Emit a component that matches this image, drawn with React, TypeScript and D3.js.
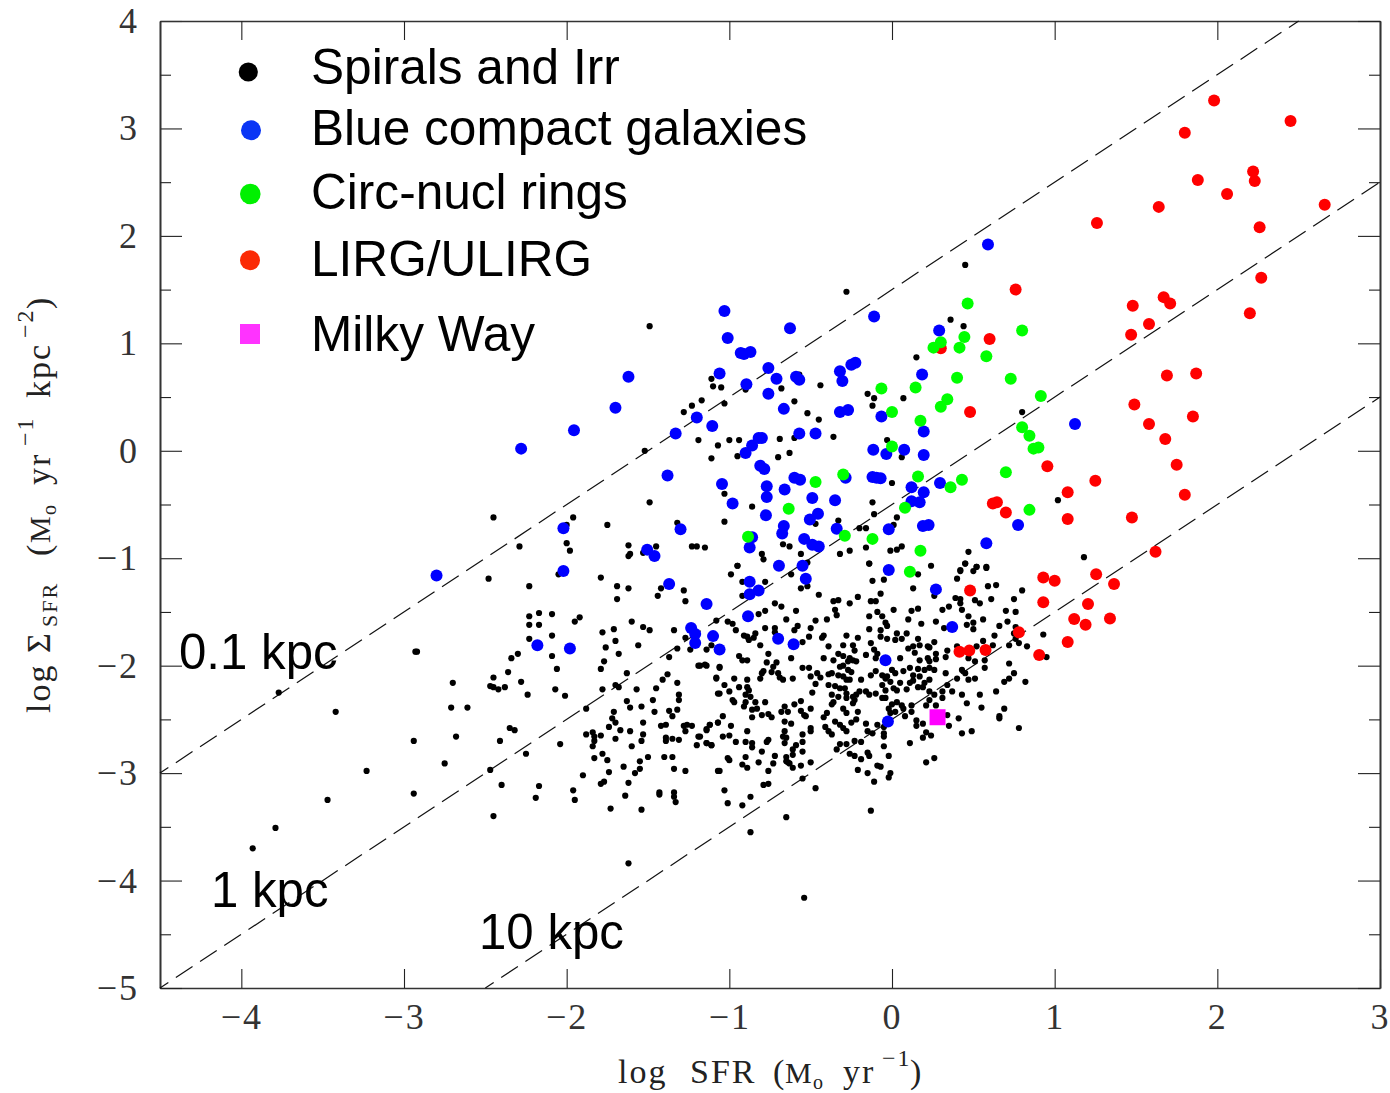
import React, { useEffect, useRef } from 'react';
import * as d3 from 'd3';

type Pt = [number, number];

// [log SFR, log sigma SFR]
const spirals: Pt[] = [
  [-3.77,-2.25],[-3.42,-2.43],[-3.23,-2.98],[-3.47,-3.25],[-3.79,-3.51],[-3.93,-3.70],[-2.93,-1.87],[-2.94,-2.70],[-2.94,-3.19],[-2.75,-2.91],
  [-2.70,-2.16],[-2.71,-2.39],[-2.61,-2.39],[-2.68,-2.66],[-2.45,-3.40],[-1.95,-3.25],[-1.54,-3.34],[-1.73,-3.33],[-1.33,-3.27],[-1.43,-3.20],
  [-1.62,-3.84],[-0.54,-4.16],[-0.28,1.48],[0.45,1.73],[-1.49,1.16],[-1.52,0.0],[-0.87,-3.55],
  [-2.45,-0.62],[-2.00,-0.69],[-1.96,-0.62],[-1.75,-0.69],[-1.49,-0.48],[-1.32,-0.67],[-2.29,-0.89],[-2.00,-0.86],[-1.98,-0.93],[-1.62,-0.88],
  [-1.61,-0.96],[-1.62,-0.98],[-1.53,-0.95],[-1.45,-0.89],[-1.23,-0.89],[-1.20,-0.89],[-1.15,-0.90],[-2.48,-1.19],[-2.23,-1.26],[-2.05,-1.15],
  [-1.79,-1.18],[-1.69,-1.26],[-1.62,-1.28],[-1.69,-1.38],[-1.42,-1.28],[-1.44,-1.35],[-1.28,-1.30],[-1.27,-1.40],[-2.92,-1.87],[-2.23,-1.54],
  [-2.17,-1.51],[-2.09,-1.52],[-2.23,-1.62],[-2.17,-1.62],[-2.23,-1.75],[-2.09,-1.72],[-1.95,-1.59],[-1.92,-1.55],[-2.09,-1.91],[-2.06,-2.03],
  [-2.30,-1.89],[-2.34,-1.93],[-2.36,-2.06],[-2.45,-2.11],[-2.47,-2.19],[-2.45,-2.20],[-2.42,-2.22],[-2.38,-2.20],[-2.28,-2.15],[-2.24,-2.27],
  [-2.07,-2.22],[-2.01,-2.28],[-2.35,-2.58],[-2.32,-2.60],[-2.41,-2.70],[-2.04,-2.73],[-2.25,-2.82],[-2.47,-2.97],[-2.40,-3.11],[-2.17,-3.12],
  [-2.19,-3.23],[-1.96,-3.16],[-1.78,-1.69],[-1.71,-1.66],[-1.60,-1.59],[-1.53,-1.64],[-1.49,-1.67],[-1.70,-1.77],[-1.76,-1.83],[-1.68,-1.89],
  [-1.56,-1.81],[-1.34,-1.67],[-1.27,-1.74],[-1.32,-1.84],[-1.37,-1.92],[-1.24,-1.85],[-1.14,-1.85],[-1.11,-1.81],[-1.08,-1.58],[-1.77,-1.96],
  [-1.79,-2.03],[-1.63,-2.07],[-1.38,-2.08],[-1.41,-2.13],[-1.32,-2.16],[-1.19,-2.00],[-1.14,-2.00],[-1.06,-2.02],[-1.08,-2.11],[-1.70,-2.18],
  [-1.68,-2.20],[-1.78,-2.22],[-1.57,-2.22],[-1.45,-2.21],[-1.63,-2.33],[-1.47,-2.32],[-1.61,-2.39],[-1.54,-2.38],[-1.31,-2.27],[-1.31,-2.32],
  [-1.07,-2.26],[-1.88,-2.40],[-1.71,-2.43],[-1.72,-2.49],[-1.70,-2.53],[-1.74,-2.57],[-1.67,-2.60],[-1.46,-2.43],[-1.37,-2.42],[-1.32,-2.41],
  [-1.35,-2.47],[-1.53,-2.53],[-1.61,-2.61],[-1.53,-2.64],[-1.54,-2.70],[-1.70,-2.68],[-1.79,-2.65],[-1.88,-2.64],[-1.84,-2.62],[-1.83,-2.66],
  [-1.83,-2.70],[-1.84,-2.75],[-1.60,-2.75],[-1.50,-2.85],[-1.55,-2.89],[-1.55,-2.96],[-1.58,-3.00],[-1.83,-2.86],[-1.78,-2.82],[-1.75,-2.88],
  [-1.65,-2.94],[-1.74,-2.99],[-1.90,-3.02],[-1.79,-3.10],[-1.77,-3.08],[-1.62,-3.09],[-1.42,-2.56],[-1.39,-2.55],[-1.28,-2.56],[-1.26,-2.55],
  [-1.23,-2.56],[-1.27,-2.61],[-1.39,-2.67],[-1.39,-2.70],[-1.35,-2.68],[-1.31,-2.69],[-1.19,-2.66],[-1.20,-2.74],[-1.14,-2.72],[-1.11,-2.74],
  [-1.14,-2.60],[-1.12,-2.55],[-1.07,-2.53],[-1.40,-2.85],[-1.35,-2.85],[-1.34,-2.96],[-1.27,-2.98],[-1.07,-2.98],[-1.64,-3.21],[-1.43,-3.18],
  [-1.34,-3.18],[-1.34,-3.22],
  [-0.95,-1.07],[-0.99,-1.15],[-0.92,-1.22],[-0.78,-1.22],[-0.92,-1.35],[-0.62,-1.15],[-0.56,-1.28],[-0.52,-1.26],[-0.45,-1.34],[-0.36,-1.40],
  [-0.33,-1.39],[-0.26,-1.42],[-0.21,-1.36],[-0.35,-1.48],[-0.34,-1.53],[-0.14,-1.05],[-0.12,-1.21],[-0.05,-1.20],[-0.07,-1.33],[-0.13,-1.40],
  [-0.10,-1.40],[-0.14,-1.54],[-0.09,-1.50],[-0.06,-1.54],[-0.04,-1.60],[-0.03,-1.63],[0.01,-1.48],[0.12,-1.49],[0.16,-1.47],[0.10,-1.57],
  [0.18,-1.61],[0.27,-1.59],[0.16,-1.15],[0.13,-1.28],[0.24,-1.07],[0.26,-1.35],[0.31,-1.48],[0.35,-1.45],[0.32,-1.65],[0.39,-1.37],
  [0.42,-1.38],[0.42,-1.42],[0.43,-1.48],[0.40,-1.19],[0.42,-1.12],[0.45,-1.05],[0.50,-1.12],[0.52,-1.08],[0.58,-1.09],[0.59,-1.26],
  [0.64,-1.25],[0.51,-1.39],[0.54,-1.42],[0.61,-1.38],[0.80,-1.30],[0.75,-1.38],[0.70,-1.49],[0.76,-1.50],[0.47,-1.54],[0.46,-1.62],
  [0.50,-1.60],[0.50,-1.66],[0.56,-1.57],[0.66,-1.63],[0.71,-1.59],[0.76,-1.64],[0.75,-1.70],[0.76,-1.75],[0.78,-1.79],[0.83,-1.82],
  [0.93,-1.71],[0.95,-1.92],[0.63,-1.72],[0.62,-1.81],[0.56,-1.77],[0.72,-1.81],[0.40,-1.82],[0.47,-1.93],[0.52,-1.82],[0.51,-1.96],
  [0.57,-1.95],[0.57,-2.02],[0.72,-1.98],[0.75,-2.07],[0.69,-2.15],[0.72,-2.12],[0.82,-2.15],[0.43,-2.04],[0.45,-2.07],[0.40,-2.12],
  [0.47,-2.13],[0.51,-2.12],[0.33,-2.07],[0.64,-2.24],[0.54,-2.27],[0.43,-2.27],[0.46,-2.35],[0.55,-2.39],[0.69,-2.40],[0.66,-2.47],
  [0.66,-2.49],[0.78,-2.58],[0.41,-2.49],[0.35,-2.56],[0.43,-2.63],[0.49,-2.61],[0.34,-2.46],
  [-1.01,-1.59],[-0.98,-1.61],[-0.96,-1.67],[-0.82,-1.52],[-0.78,-1.49],[-0.72,-1.42],[-0.68,-1.45],[-0.59,-1.49],[-0.65,-1.57],[-0.47,-1.58],
  [-0.40,-1.57],[-0.58,-1.63],[-0.60,-1.67],[-0.50,-1.65],[-0.78,-1.65],[-0.72,-1.65],[-0.72,-1.69],[-0.91,-1.72],[-0.84,-1.70],[-0.85,-1.74],
  [-0.88,-1.76],[-0.89,-1.73],[-0.81,-1.81],[-0.55,-1.78],[-0.51,-1.73],[-0.43,-1.74],[-0.42,-1.72],[-0.39,-1.82],[-0.28,-1.72],[-0.21,-1.74],
  [-0.30,-1.81],[-0.24,-1.81],[-0.23,-1.86],[-0.13,-1.79],[-0.14,-1.66],[-0.07,-1.67],[-0.07,-1.73],[-0.03,-1.75],[0.03,-1.70],[0.02,-1.76],
  [0.06,-1.75],[0.09,-1.70],[0.16,-1.75],[0.17,-1.81],[0.13,-1.82],[0.10,-1.84],[0.14,-1.88],[0.22,-1.82],[0.26,-1.78],[0.23,-1.83],
  [0.27,-1.89],[0.34,-1.86],[0.33,-1.92],[0.27,-1.94],[0.22,-1.93],[0.23,-1.96],[0.17,-1.95],[0.05,-1.93],[-0.11,-1.85],[-0.09,-1.89],
  [-0.10,-1.93],[-0.16,-1.90],[-0.33,-1.89],[-0.30,-1.91],[-0.36,-1.95],[-0.42,-1.93],[-0.26,-1.93],[-0.24,-1.95],[-0.22,-1.96],[-0.27,-1.96],
  [-0.94,-1.91],[-0.92,-1.95],[-0.89,-1.95],[-0.76,-1.89],[-0.77,-1.97],[-0.71,-1.97],[-0.62,-1.93],[-1.15,-1.99],[-1.06,-2.01],[-1.18,-2.00],
  [-0.73,-2.01],[-0.79,-2.05],[-0.80,-2.07],[-0.74,-2.06],[-0.70,-2.07],[-0.69,-2.11],[-0.67,-2.13],[-0.81,-2.12],[-0.61,-2.12],[-0.55,-2.02],
  [-0.51,-2.02],[-0.50,-2.10],[-0.46,-2.07],[-0.44,-2.11],[-1.08,-2.12],[-0.97,-2.12],[-0.89,-2.13],[-0.39,-2.08],[-0.37,-2.07],[-0.32,-2.01],
  [-0.30,-2.00],[-0.33,-2.09],[-0.30,-2.10],[-0.27,-2.04],[-0.25,-2.06],[-0.28,-2.13],[-0.26,-2.13],[-0.19,-2.13],[-0.13,-2.09],[-0.10,-2.05],
  [-0.06,-2.09],[-0.03,-2.10],[0,-2.04],[0.02,-2.07],[0.07,-2.05],[0.11,-2.02],[0.13,-2.09],[0.16,-2.03],[0.20,-2.04],[0.23,-2.02],
  [0.26,-2.04],[0.17,-2.10],[0.23,-2.13],[0.20,-2.16],[0.16,-2.20],[0.19,-2.20],[0.13,-2.14],[0.11,-2.16],[0.05,-2.16],[0.09,-2.22],
  [0.01,-2.21],[0.03,-2.23],[-0.06,-2.18],[-0.04,-2.23],[-0.01,-2.15],[-0.04,-2.12],[-0.39,-2.18],[-0.35,-2.19],[-0.32,-2.21],[-0.29,-2.21],
  [-0.47,-2.17],[-0.49,-2.25],[-0.37,-2.27],[-0.33,-2.29],[-0.28,-2.26],[-0.28,-2.30],[-0.24,-2.29],[-0.22,-2.27],[-0.20,-2.24],[-0.16,-2.24],
  [-0.14,-2.27],[-0.10,-2.26],[-0.06,-2.30],[-0.04,-2.30],[-0.36,-2.34],[-0.37,-2.36],[-0.24,-2.35],[-0.30,-2.40],[-0.28,-2.44],[-0.23,-2.32],
  [-0.21,-2.43],[-0.22,-2.50],[-0.25,-2.53],[-0.16,-2.54],[-0.09,-2.55],[-0.15,-2.61],[-0.12,-2.63],[-0.05,-2.57],[-0.05,-2.63],[-0.05,-2.66],
  [-0.02,-2.40],[-0.01,-2.44],[0.02,-2.43],[0.03,-2.34],[0,-2.36],[0.06,-2.37],[0.07,-2.40],[0.12,-2.37],[0.12,-2.43],[0.08,-2.47],
  [0.15,-2.51],[0.19,-2.54],[0.15,-2.56],[0.21,-2.62],[0.24,-2.65],[0.19,-2.67],[0.11,-2.72],[0.21,-2.90],[0.26,-2.86],[0.23,-2.24],
  [0.26,-2.27],[0.31,-2.24],[0.34,-2.18],[0.37,-2.24],[0.31,-2.30],[0.23,-2.32],[0.21,-2.37],[0.27,-2.37],
  [-1.03,-2.18],[-1.00,-2.24],[-0.94,-2.20],[-1.06,-2.26],[-0.98,-2.32],[-0.97,-2.34],[-0.89,-2.20],[-0.88,-2.23],[-0.90,-2.27],[-0.87,-2.29],
  [-0.90,-2.34],[-0.91,-2.38],[-0.84,-2.34],[-0.78,-2.34],[-0.86,-2.41],[-0.83,-2.40],[-0.86,-2.48],[-0.80,-2.46],[-0.76,-2.45],[-0.74,-2.48],
  [-0.66,-2.38],[-0.68,-2.43],[-0.64,-2.43],[-0.60,-2.36],[-0.56,-2.33],[-0.50,-2.40],[-0.56,-2.42],[-0.54,-2.46],[-0.53,-2.47],[-0.40,-2.44],
  [-0.42,-2.48],[-0.35,-2.52],[-0.41,-2.57],[-0.39,-2.61],[-0.37,-2.64],[-0.32,-2.55],[-0.30,-2.58],[-0.28,-2.61],[-0.66,-2.52],[-0.62,-2.54],
  [-0.50,-2.58],[-0.50,-2.61],[-0.55,-2.64],[-0.66,-2.61],[-0.67,-2.66],[-0.65,-2.67],[-0.66,-2.72],[-0.55,-2.71],[-0.59,-2.74],[-0.61,-2.78],
  [-0.55,-2.80],[-1.12,-2.55],[-0.99,-2.56],[-1.07,-2.53],[-1.04,-2.47],[-1.14,-2.59],[-1.18,-2.66],[-1.04,-2.66],[-1.00,-2.65],[-0.89,-2.61],
  [-0.96,-2.71],[-0.90,-2.71],[-0.86,-2.72],[-0.86,-2.76],[-0.76,-2.69],[-0.77,-2.71],[-1.14,-2.72],[-1.11,-2.74],[-0.80,-2.80],[-0.72,-2.84],
  [-0.90,-2.85],[-1.01,-2.86],[-1.00,-2.88],[-0.82,-2.90],[-0.73,-2.91],[-0.92,-2.92],[-0.89,-2.95],[-1.06,-2.98],[-0.76,-2.98],[-0.65,-2.85],
  [-0.61,-2.83],[-0.65,-2.89],[-0.63,-2.91],[-0.64,-2.90],[-0.61,-2.95],[-0.56,-2.93],[-0.50,-2.90],[-0.55,-3.05],[-0.47,-3.14],[-0.79,-3.11],
  [-0.76,-3.10],[-1.03,-3.16],[-1.01,-3.28],[-0.92,-3.30],[-0.87,-3.22],[-0.65,-3.41],[-0.13,-3.35],[-0.34,-2.78],[-0.32,-2.73],[-0.28,-2.73],
  [-0.23,-2.70],[-0.19,-2.71],[-0.26,-2.82],[-0.23,-2.84],[-0.19,-2.87],[-0.15,-2.81],[-0.14,-2.84],[-0.21,-2.97],[-0.15,-3.00],[-0.09,-2.93],
  [-0.07,-2.94],[-0.11,-3.08],[-0.01,-3.00],[-0.02,-3.04],[-0.02,-2.84],[-0.05,-2.75],
  [0.36,1.22],[0.44,1.16],[0.15,0.87],[-1.11,0.67],[-1.10,0.60],[-1.05,0.59],[-0.90,0.57],[-0.68,0.58],[-0.57,0.71],[-0.44,0.61],
  [-1.17,0.47],[-1.23,0.42],[-1.28,0.36],[-1.03,0.44],[-0.60,0.46],[-0.52,0.35],[-0.45,0.29],[-0.15,0.53],[-0.11,0.49],[-0.12,0.42],
  [0.07,0.49],[-1.19,0.10],[-1.07,0.05],[-1.00,0.10],[-0.94,0.10],[-0.69,0.11],[-0.60,0.12],[-0.36,0.13],[-0.03,0.10],[0.06,-0.06],
  [-1.11,-0.07],[-0.95,-0.05],[-0.70,-0.06],[-0.63,-0.02],[0,-0.30],[0.80,0.36],[1.02,-0.46],[-1.03,-0.40],[-0.86,-0.52],[-0.12,-0.48],
  [-0.11,-0.59],[0.03,-0.62],[0.01,-0.69],[-1.03,-0.66],[-0.47,-0.68],[-0.33,-0.65],[-0.20,-0.72],[-0.16,-0.72],[-0.67,-0.87],[-0.63,-0.89],
  [-0.80,-0.96],[-0.79,-1.01],[-0.56,-0.96],[-0.52,-1.04],[-0.32,-0.96],[-0.26,-0.93],[-0.16,-0.90],[-0.01,-0.93],[0.03,-0.92],[0.06,-0.89],
  [0.47,-0.94],[0.45,-1.05],[0.52,-1.08],[0.58,-1.08],[0.42,-1.11],[-0.95,-1.07],[-0.14,-1.05],[1.18,-0.99],
];

const blueCompact: Pt[] = [
  [-2.80,-1.16],[-2.28,0.02],[-1.955,0.19],[-2.02,-0.72],[-2.02,-1.12],[-2.18,-1.81],[-1.98,-1.84],[-1.70,0.40],[-1.62,0.69],[-1.03,1.30],
  [-1.01,1.05],[-0.627,1.14],[-0.11,1.25],[0.29,1.12],[0.59,1.92],[-0.93,0.91],[-0.91,0.90],[-0.87,0.92],[-0.76,0.77],[-1.06,0.72],
  [-0.895,0.62],[-0.71,0.67],[-0.76,0.53],[-0.59,0.69],[-0.57,0.66],[-0.32,0.74],[-0.305,0.65],[-0.25,0.80],[-0.225,0.82],[0.185,0.71],
  [-0.665,0.39],[-1.20,0.31],[-1.105,0.23],[-1.33,0.16],[-0.57,0.16],[-0.47,0.16],[-0.32,0.36],[-0.27,0.38],[-0.065,0.32],[0.195,0.18],
  [-0.82,0.12],[-0.80,0.12],[-0.86,0.05],[-0.90,-0.02],[-0.115,0.01],[-0.035,-0.03],[0.075,0.01],[0.195,-0.04],[-0.81,-0.14],[-0.785,-0.17],
  [-1.38,-0.23],[-1.045,-0.31],[-0.77,-0.33],[-0.77,-0.43],[-0.66,-0.36],[-0.60,-0.25],[-0.565,-0.27],[-0.285,-0.25],[-0.12,-0.245],[-0.07,-0.255],
  [-0.095,-0.25],[0.12,-0.34],[0.195,-0.385],[0.295,-0.30],[-0.98,-0.49],[-0.49,-0.44],[-0.35,-0.46],[0.12,-0.47],[0.17,-0.48],[-0.775,-0.60],
  [-0.455,-0.585],[-0.505,-0.64],[-0.665,-0.70],[-0.675,-0.77],[-1.30,-0.73],[-0.34,-0.725],[-0.02,-0.73],[0.19,-0.70],[0.225,-0.69],[0.775,-0.69],
  [-0.54,-0.82],[-0.49,-0.875],[-0.45,-0.89],[-0.86,-0.805],[-0.875,-0.90],[-1.505,-0.92],[-1.46,-0.98],[0.58,-0.86],[-0.695,-1.07],[-0.55,-1.07],
  [-0.02,-1.11],[-0.53,-1.19],[0.27,-1.29],[-0.875,-1.22],[-0.82,-1.30],[-0.875,-1.335],[-1.14,-1.425],[-0.885,-1.54],[-1.10,-1.725],[-1.06,-1.85],
  [-1.235,-1.65],[-1.21,-1.705],[-1.21,-1.79],[-0.70,-1.75],[-0.605,-1.80],[0.37,-1.64],[-0.04,-1.95],[-0.025,-2.52],[-1.37,-1.24],[1.125,0.25],
];

const circNuclear: Pt[] = [
  [0.465,1.37],[0.80,1.12],[0.30,1.01],[0.255,0.96],[0.445,1.06],[0.415,0.96],[0.58,0.88],[0.40,0.68],[0.73,0.67],[0.145,0.59],
  [-0.065,0.58],[0.915,0.51],[0.34,0.48],[0.30,0.41],[0,0.36],[0.175,0.28],[0.80,0.22],[0.845,0.14],[0.87,0.02],[0.90,0.03],
  [0,0.04],[-0.30,-0.22],[-0.47,-0.29],[0.16,-0.24],[0.70,-0.20],[0.43,-0.27],[0.36,-0.34],[0.08,-0.53],[-0.635,-0.54],[0.845,-0.55],
  [-0.885,-0.80],[-0.29,-0.79],[-0.12,-0.82],[0.175,-0.93],[0.11,-1.125],
];

const lirgs: Pt[] = [
  [1.98,3.26],[1.80,2.96],[2.45,3.07],[2.22,2.60],[2.23,2.51],[1.88,2.52],[2.06,2.39],[1.64,2.27],[2.66,2.29],[2.26,2.08],
  [1.26,2.12],[2.27,1.61],[0.76,1.50],[1.67,1.43],[1.71,1.37],[1.48,1.35],[2.20,1.28],[1.58,1.18],[1.47,1.08],[0.60,1.04],
  [0.30,0.955],[1.69,0.70],[1.87,0.72],[0.48,0.36],[1.49,0.43],[1.85,0.32],[1.58,0.25],[1.68,0.11],[0.955,-0.145],[1.75,-0.13],
  [1.25,-0.28],[1.08,-0.385],[1.80,-0.41],[0.62,-0.49],[0.645,-0.48],[0.70,-0.575],[1.08,-0.635],[1.475,-0.62],[1.62,-0.94],[1.255,-1.15],
  [0.93,-1.18],[1.00,-1.21],[1.365,-1.24],[0.48,-1.30],[0.93,-1.41],[1.205,-1.425],[1.12,-1.565],[1.34,-1.56],[1.19,-1.62],[0.78,-1.69],
  [1.08,-1.78],[0.905,-1.90],[0.415,-1.87],[0.475,-1.86],[0.575,-1.855],
];

const milkyWay: Pt = [0.28, -2.48];

const diskOffsets = [1.5, -0.5, -2.5];
const xMajor = [-4, -3, -2, -1, 0, 1, 2, 3];
const yMajor = [-5, -4, -3, -2, -1, 0, 1, 2, 3, 4];
const yMinor = [-4.5, -3.5, -2.5, -1.5, -0.5, 0.5, 1.5, 2.5, 3.5];

const legendLabels = ['Spirals and Irr', 'Blue compact galaxies', 'Circ-nucl rings', 'LIRG/ULIRG', 'Milky Way'];

const W = 1390;
const H = 1093;
const SANS = '"Liberation Sans", Arial, sans-serif';
const SERIF = '"Liberation Serif", "Times New Roman", serif';

export default function App() {
  const ref = useRef<SVGSVGElement>(null);

  useEffect(() => {
    const svg = d3.select(ref.current);
    svg.selectAll('*').remove();

    const x = d3.scaleLinear().domain([-4.5, 3]).range([160, 1380]);
    const y = d3.scaleLinear().domain([-5, 4]).range([988, 21]);

    const styleAxis = (g: any) => {
      g.selectAll('line').attr('stroke', '#222').attr('stroke-width', 1.1);
      g.selectAll('path').attr('stroke', '#333').attr('stroke-width', 1.6);
      g.selectAll('text').attr('fill', '#333').attr('font-family', SERIF).attr('font-size', 36).attr('letter-spacing', 2);
    };

    // main axes with labels
    svg.append('g').attr('transform', 'translate(0,988)')
      .call(d3.axisBottom(x).tickValues(xMajor).tickSizeInner(-19).tickSizeOuter(0).tickPadding(15))
      .call(styleAxis);
    svg.append('g').attr('transform', 'translate(160,0)')
      .call(d3.axisLeft(y).tickValues(yMajor).tickSizeInner(-22).tickSizeOuter(0).tickPadding(21))
      .call(styleAxis);
    // mirrored axes, no labels
    svg.append('g').attr('transform', 'translate(0,21)')
      .call(d3.axisTop(x).tickValues(xMajor).tickSizeInner(-19).tickSizeOuter(0).tickFormat(() => ''))
      .call(styleAxis);
    svg.append('g').attr('transform', 'translate(1380,0)')
      .call(d3.axisRight(y).tickValues(yMajor).tickSizeInner(-22).tickSizeOuter(0).tickFormat(() => ''))
      .call(styleAxis);
    svg.append('g').attr('transform', 'translate(160,0)')
      .call(d3.axisLeft(y).tickValues(yMinor).tickSizeInner(-11).tickSizeOuter(0).tickFormat(() => ''))
      .call(styleAxis);
    svg.append('g').attr('transform', 'translate(1380,0)')
      .call(d3.axisRight(y).tickValues(yMinor).tickSizeInner(-11).tickSizeOuter(0).tickFormat(() => ''))
      .call(styleAxis);

    // constant disk size lines
    const line = d3.line<number>().x(d => x(d[0])).y(d => y(d[1]));
    diskOffsets.forEach(off => {
      const x0 = Math.max(-4.5, -5 - off);
      const x1 = Math.min(3, 4 - off);
      svg.append('path')
        .attr('d', (line as any)([[x0, x0 + off], [x1, x1 + off]]))
        .attr('fill', 'none')
        .attr('stroke', '#111')
        .attr('stroke-width', 1.2)
        .attr('stroke-dasharray', '20 9')
        .attr('stroke-dashoffset', 10);
    });

    const dots = (pts: Pt[], r: number, color: string) => {
      svg.append('g').selectAll('circle').data(pts).enter().append('circle')
        .attr('cx', d => x(d[0]))
        .attr('cy', d => y(d[1]))
        .attr('r', r)
        .attr('fill', color);
    };
    dots(spirals, 3.1, '#000');
    dots(lirgs, 6, '#ff0000');
    dots(blueCompact, 6, '#0000ff');
    dots(circNuclear, 6, '#00ff00');

    svg.append('rect')
      .attr('x', x(milkyWay[0]) - 8)
      .attr('y', y(milkyWay[1]) - 8)
      .attr('width', 16)
      .attr('height', 16)
      .attr('fill', '#ff00ff');

    // size labels
    const sizeLabels: [string, number, number][] = [['0.1 kpc', 179, 669], ['1 kpc', 211, 907], ['10 kpc', 479, 949]];
    sizeLabels.forEach(([t, tx, ty]) => {
      svg.append('text').attr('x', tx).attr('y', ty).attr('font-family', SANS).attr('font-size', 49.2).attr('fill', '#000').text(t);
    });

    // legend
    const legendBase = [84, 145, 209, 276, 351];
    legendLabels.forEach((t, i) => {
      svg.append('text').attr('x', 311).attr('y', legendBase[i]).attr('font-family', SANS).attr('font-size', 49.6).attr('fill', '#000').text(t);
    });
    const legendDots: [number, number, number, string][] = [
      [248.3, 72, 9.6, '#000000'],
      [251, 130.3, 10, '#0a35f5'],
      [250.3, 194, 10.3, '#00f000'],
      [250, 260.3, 10, '#fb2a05'],
    ];
    legendDots.forEach(([cx, cy, r, c]) => {
      svg.append('circle').attr('cx', cx).attr('cy', cy).attr('r', r).attr('fill', c);
    });
    svg.append('rect').attr('x', 240).attr('y', 324).attr('width', 20).attr('height', 20).attr('fill', '#ff33ff');

    // axis titles, pieces placed by hand as in the PGPLOT original
    const piece = (g: any, t: string, px: number, py: number, size = 34, spacing = 2) => {
      g.append('text').attr('x', px).attr('y', py).attr('font-family', SERIF).attr('font-size', size)
        .attr('letter-spacing', spacing).attr('fill', '#222').text(t);
    };
    const xt = svg.append('g').attr('transform', 'translate(0,1083)');
    piece(xt, 'log', 618, 0);
    piece(xt, 'SFR', 690, 0);
    piece(xt, '(', 773, 0);
    piece(xt, 'M', 785, 0, 30, 0);
    piece(xt, 'o', 813, 6, 20, 0);
    piece(xt, 'yr', 843, 0);
    piece(xt, '−1', 882, -17, 24);
    piece(xt, ')', 910, 0);

    const yt = svg.append('g').attr('transform', 'translate(50,713) rotate(-90)');
    piece(yt, 'log', 0, 0);
    piece(yt, 'Σ', 60, 0);
    piece(yt, 'SFR', 86, 7, 22);
    piece(yt, '(', 157, 0);
    piece(yt, 'M', 170, 0, 30, 0);
    piece(yt, 'o', 198, 6, 20, 0);
    piece(yt, 'yr', 228, 0);
    piece(yt, '−1', 267, -17, 24);
    piece(yt, 'kpc', 315, 0);
    piece(yt, '−2', 375, -17, 24);
    piece(yt, ')', 404, 0);
  }, []);

  return <svg ref={ref} width={W} height={H} style={{ position: 'absolute', left: 0, top: 0, background: '#fff' }} />;
}
